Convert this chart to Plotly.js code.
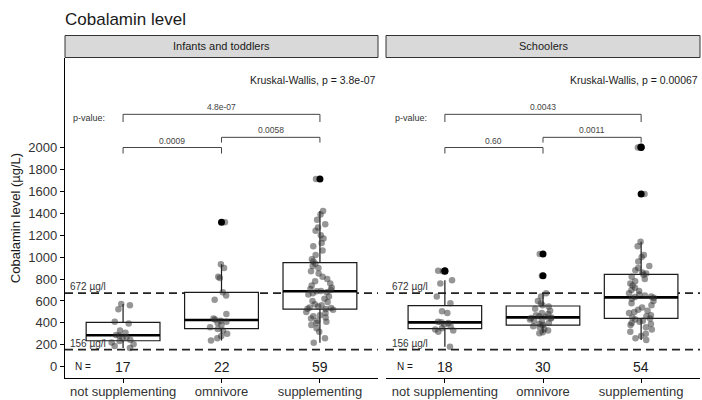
<!DOCTYPE html>
<html><head><meta charset="utf-8">
<script src="https://cdn.plot.ly/plotly-3.0.1.min.js"></script>
<style>html,body{margin:0;padding:0;background:#fff}</style>
</head><body><div id="chart" style="width:702px;height:400px"></div>
<script>
// ---------- data ----------
const categories = ['not supplementing', 'omnivore', 'supplementing'];
const panelNames = ['Infants and toddlers', 'Schoolers'];
const countsInfants = [17, 22, 59];
const countsSchoolers = [18, 30, 54];
const kruskalInfants = 'Kruskal-Wallis, p = 3.8e-07';
const kruskalSchoolers = 'Kruskal-Wallis, p = 0.00067';
const pInfants = ['0.0009', '0.0058', '4.8e-07'];      // pairs: ns-omni, omni-supp, ns-supp
const pSchoolers = ['0.60', '0.0011', '0.0043'];
const refValues = [672, 156];
const refLabels = ['672 µg/l', '156 µg/l'];
const yTicks = [0, 200, 400, 600, 800, 1000, 1200, 1400, 1600, 1800, 2000];

// box statistics
const infantsQ1 = [237, 347, 526];
const infantsMedian = [287, 426, 688];
const infantsQ3 = [405, 679, 949];
const infantsLower = [170, 240, 219];
const infantsUpper = [572, 934, 1420];
const schoolersQ1 = [347, 380, 441];
const schoolersMedian = [405, 450, 633];
const schoolersQ3 = [557, 554, 843];
const schoolersLower = [182, 305, 244];
const schoolersUpper = [790, 670, 1141];

// outliers (black points)
const infantsOutlierCats = ['omnivore', 'supplementing'];
const infantsOutliers = [1318, 1712];
const schoolersOutlierCats = ['not supplementing', 'not supplementing', 'omnivore', 'omnivore', 'supplementing', 'supplementing', 'supplementing'];
const schoolersOutliers = [876, 870, 1028, 830, 2005, 2000, 1575];

// individual observations (grey jittered points)
const infantsNotSupp = [572, 560, 525, 410, 395, 330, 310, 290, 285, 270, 260, 245, 235, 220, 205, 190, 170];
const infantsOmni = [1318, 934, 900, 820, 810, 680, 650, 610, 480, 440, 430, 420, 410, 400, 380, 360, 345, 330, 300, 280, 260, 240];
const infantsSupp = [1712, 1420, 1390, 1340, 1300, 1270, 1240, 1200, 1170, 1130, 1100, 1060, 1020, 980, 960,
  940, 920, 900, 870, 850, 820, 800, 780, 760, 740, 720, 710, 700, 690, 688,
  680, 670, 660, 640, 620, 600, 590, 570, 560, 550, 540, 535, 530, 527,
  520, 500, 490, 470, 460, 450, 440, 420, 410, 400, 380, 350, 320, 260, 219];
const schoolersNotSupp = [876, 870, 790, 760, 640, 580, 505, 490, 410, 405, 400, 385, 370, 350, 340, 330, 320, 182];
const schoolersOmni = [1028, 830, 670, 640, 600, 580, 560, 550, 530, 510, 490, 480, 470, 460, 455, 450, 445, 440, 430, 420, 410, 400, 390, 380, 370, 360, 345, 330, 315, 305];
const schoolersSupp = [2005, 2000, 1575, 1141, 1100, 1020, 1000, 960, 920, 900, 880, 860, 850,
  840, 820, 800, 780, 760, 740, 720, 700, 690, 670, 660, 650, 640, 635, 630,
  620, 600, 580, 560, 540, 520, 510, 500, 490, 470, 460, 450,
  440, 430, 420, 410, 400, 390, 380, 360, 340, 320, 300, 280, 260, 244];

// ---------- styling / layout ----------
const W = 702, H = 400;
const FONT = 'Liberation Sans, Arial, sans-serif';
const px = v => v / W, py = v => 1 - v / H;
const panelX = [[65, 378], [386, 700]];
const panelTop = 58, panelBottom = 378;
const xRanges = [[-0.59, 2.59], [-0.6, 2.6]];
const yRange = [-103, 2817];
const boxW = 0.75;

const panelData = [
  {xa: 'x', q1: infantsQ1, med: infantsMedian, q3: infantsQ3, lo: infantsLower, up: infantsUpper,
   oc: infantsOutlierCats, ov: infantsOutliers, pts: [infantsNotSupp, infantsOmni, infantsSupp],
   counts: countsInfants, kw: kruskalInfants, p: pInfants},
  {xa: 'x2', q1: schoolersQ1, med: schoolersMedian, q3: schoolersQ3, lo: schoolersLower, up: schoolersUpper,
   oc: schoolersOutlierCats, ov: schoolersOutliers, pts: [schoolersNotSupp, schoolersOmni, schoolersSupp],
   counts: countsSchoolers, kw: kruskalSchoolers, p: pSchoolers}
];

const traces = [];
const shapes = [];
const annotations = [];
const bracketPairs = [[0, 1], [1, 2], [0, 2]];
const bracketLevels = [2000, 2093, 2303];
const bracketTips = [55, 48, 70];

panelData.forEach((d, k) => {
  // boxes
  traces.push({type: 'box', xaxis: d.xa, yaxis: 'y', x: categories, q1: d.q1, median: d.med, q3: d.q3,
    lowerfence: d.lo, upperfence: d.up, width: boxW, whiskerwidth: 0, boxpoints: false,
    fillcolor: '#ffffff', line: {color: '#1a1a1a', width: 1.2}, hoverinfo: 'y'});
  // thick median
  traces.push({type: 'box', xaxis: d.xa, yaxis: 'y', x: categories, q1: d.med, median: d.med, q3: d.med,
    lowerfence: d.med, upperfence: d.med, width: boxW, whiskerwidth: 0, boxpoints: false,
    fillcolor: 'rgba(0,0,0,0)', line: {color: '#000000', width: 2.6}, hoverinfo: 'skip'});
  // outliers
  traces.push({type: 'scatter', mode: 'markers', xaxis: d.xa, yaxis: 'y', x: d.oc, y: d.ov,
    marker: {color: '#000000', size: 7}, hoverinfo: 'y'});
  // jittered observations
  const xs = [], ys = [];
  d.pts.forEach((arr, i) => arr.forEach(v => { xs.push(categories[i]); ys.push(v); }));
  traces.push({type: 'box', xaxis: d.xa, yaxis: 'y', x: xs, y: ys, width: boxW, boxpoints: 'all',
    jitter: 0.38, pointpos: 0, whiskerwidth: 0, fillcolor: 'rgba(0,0,0,0)', line: {width: 0, color: 'rgba(0,0,0,0)'},
    marker: {color: 'rgba(45,45,45,0.5)', size: 6.5, line: {width: 0}}, hoveron: 'points', hoverinfo: 'y'});

  // reference lines
  refValues.forEach((v, j) => {
    shapes.push({type: 'line', xref: d.xa + ' domain', yref: 'y', x0: 0, x1: 1, y0: v, y1: v, layer: 'below',
      line: {color: '#222222', width: 1.8, dash: '8px,5px'}});
    annotations.push({xref: d.xa, yref: 'y', x: -0.56, y: v, xanchor: 'left', yanchor: 'bottom', yshift: -1,
      text: refLabels[j], showarrow: false, font: {family: FONT, size: 10, color: '#333333'}});
  });

  // strip
  shapes.push({type: 'rect', xref: 'paper', yref: 'paper', x0: px(panelX[k][0]), x1: px(panelX[k][1]),
    y0: py(57.5), y1: py(35.5), fillcolor: '#d9d9d9', line: {color: '#333333', width: 1}});
  annotations.push({xref: 'paper', yref: 'paper', x: px((panelX[k][0] + panelX[k][1]) / 2), y: py(46.5),
    xanchor: 'center', yanchor: 'middle', text: panelNames[k], showarrow: false,
    font: {family: FONT, size: 11, color: '#1a1a1a'}});

  // Kruskal-Wallis
  annotations.push({xref: d.xa + ' domain', yref: 'y', x: 1, y: 2616, xanchor: 'right', yanchor: 'middle',
    text: d.kw, showarrow: false, font: {family: FONT, size: 10.5, color: '#1a1a1a'}});
  // p-value label
  annotations.push({xref: d.xa, yref: 'y', x: -0.53, y: 2272, xanchor: 'left', yanchor: 'middle',
    text: 'p-value:', showarrow: false, font: {family: FONT, size: 9, color: '#333333'}});
  // brackets
  bracketPairs.forEach((pr, b) => {
    const yl = bracketLevels[b], yt = yl - bracketTips[b];
    shapes.push({type: 'path', xref: d.xa, yref: 'y',
      path: `M ${pr[0]},${yt} L ${pr[0]},${yl} L ${pr[1]},${yl} L ${pr[1]},${yt}`,
      line: {color: '#444444', width: 1}});
    annotations.push({xref: d.xa, yref: 'y', x: (pr[0] + pr[1]) / 2, y: yl, xanchor: 'center', yanchor: 'bottom',
      yshift: 0, text: d.p[b], showarrow: false, font: {family: FONT, size: 8.5, color: '#444444'}});
  });
  // N row
  annotations.push({xref: d.xa, yref: 'y', x: -0.41, y: 0, xanchor: 'center', yanchor: 'middle',
    text: 'N =', showarrow: false, font: {family: FONT, size: 10, color: '#1a1a1a'}});
  d.counts.forEach((c, i) => annotations.push({xref: d.xa, yref: 'y', x: i, y: 0, xanchor: 'center',
    yanchor: 'middle', text: String(c), showarrow: false, font: {family: FONT, size: 14, color: '#1a1a1a'}}));
});

const xaxisBase = {type: 'category', categoryorder: 'array', categoryarray: categories,
  showline: true, linecolor: '#000000', linewidth: 1.2, ticks: 'outside', ticklen: 4, tickcolor: '#000000',
  ticklabelstandoff: -3,
  tickfont: {family: FONT, size: 13, color: '#333333'}, showgrid: false, zeroline: false, fixedrange: true,
  anchor: 'y'};

const layout = {
  width: W, height: H, margin: {l: 0, r: 0, t: 0, b: 0},
  paper_bgcolor: '#ffffff', plot_bgcolor: '#ffffff', showlegend: false, boxmode: 'overlay',
  font: {family: FONT, color: '#1a1a1a'},
  title: {text: 'Cobalamin level', x: px(65), xanchor: 'left', xref: 'paper', y: py(19), yanchor: 'middle',
    yref: 'paper', font: {family: FONT, size: 17, color: '#1a1a1a'}},
  xaxis: Object.assign({}, xaxisBase, {domain: [px(panelX[0][0]), px(panelX[0][1])], range: xRanges[0]}),
  xaxis2: Object.assign({}, xaxisBase, {domain: [px(panelX[1][0]), px(panelX[1][1])], range: xRanges[1]}),
  yaxis: {domain: [py(panelBottom), py(panelTop)], range: yRange, anchor: 'x', tickvals: yTicks,
    showline: true, linecolor: '#000000', linewidth: 1.2, ticks: 'outside', ticklen: 4, tickcolor: '#000000',
    tickfont: {family: FONT, size: 13, color: '#333333'}, showgrid: false, zeroline: false, fixedrange: true,
    automargin: false,
    title: {text: 'Cobalamin level (µg/L)', font: {family: FONT, size: 13, color: '#1a1a1a'}, standoff: 4}},
  shapes: shapes, annotations: annotations
};

Plotly.newPlot('chart', traces, layout, {staticPlot: true, displayModeBar: false});
</script></body></html>
